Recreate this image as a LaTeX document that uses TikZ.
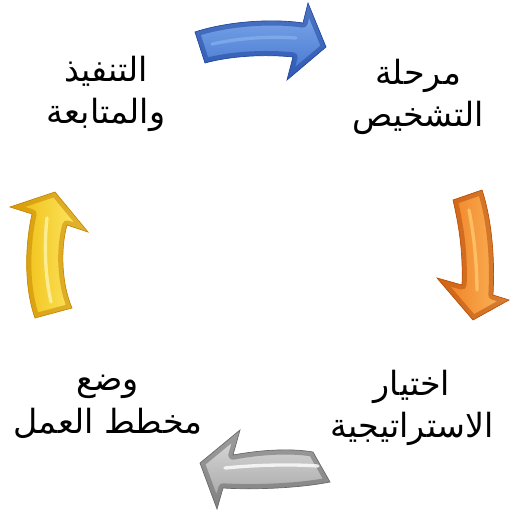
\documentclass[tikz,border=0pt]{standalone}
\usepackage{fontspec}
\newfontfamily\arabicfont[Script=Arabic]{DejaVu Sans}
\TeXXeTstate=1

\definecolor{bluebase}{RGB}{66,116,206}
\definecolor{bluedark}{RGB}{34,72,160}
\definecolor{bluelight}{RGB}{130,172,236}
\definecolor{orangebase}{RGB}{238,122,30}
\definecolor{orangedark}{RGB}{185,80,12}
\definecolor{orangelight}{RGB}{255,200,110}
\definecolor{graybase}{RGB}{160,160,160}
\definecolor{graydark}{RGB}{105,105,105}
\definecolor{graylight}{RGB}{222,222,222}
\definecolor{yellowbase}{RGB}{238,186,10}
\definecolor{yellowdark}{RGB}{200,135,5}
\definecolor{yellowlight}{RGB}{255,236,110}

% outlines of the four curved arrows
\def\bluearrow{(195,32) .. controls (225,22) and (270,18) .. (303,23) -- (308,3) -- (326,47) -- (287,80) -- (293,57) .. controls (265,54) and (230,56) .. (205,63) -- cycle}
\def\orangearrow{(453,200) .. controls (460,230) and (463,255) .. (462,285) -- (437,278) -- (473,320) -- (509,300) -- (493,295) .. controls (495,260) and (492,220) .. (482,190) -- cycle}
\def\grayarrow{(313,452) .. controls (290,448) and (260,450) .. (233,455) -- (240,430) -- (200,463) -- (217,509) -- (223,488) .. controls (255,490) and (300,488) .. (330,482) -- cycle}
\def\yellowarrow{(32,214) -- (10,207) -- (55,192) -- (88,232) -- (67,225) .. controls (60,250) and (62,285) .. (72,308) -- (35,318) .. controls (25,290) and (24,250) .. (32,214) -- cycle}

\tikzset{every picture/.style={line width=0.75pt}}
\tikzset{
  stage/.style={font=\arabicfont\fontsize{25}{32}\selectfont, align=center, inner sep=0pt},
  bevel/.style={line width=7, opacity=0.55, line join=round},
  gloss/.style={line width=2.5, line cap=round, opacity=0.8}
}

\begin{document}
\begin{tikzpicture}[x=0.75pt,y=0.75pt,yscale=-1,xscale=1]
  \useasboundingbox (0,0) rectangle (510,511);

  %Shape: Block Arc Arrow (top)
  \begin{scope}
    \clip \bluearrow;
    \shade[top color=bluelight, bottom color=bluebase] \bluearrow;
    \draw[bevel, bluedark] \bluearrow;
  \end{scope}
  \draw[gloss, bluelight] (212,44) .. controls (240,38) and (270,36) .. (296,38);
  \draw[bluedark, line width=0.5] \bluearrow;

  %Shape: Block Arc Arrow (right)
  \begin{scope}
    \clip \orangearrow;
    \shade[left color=orangebase, right color=orangelight!80!orangebase] \orangearrow;
    \draw[bevel, orangedark] \orangearrow;
  \end{scope}
  \draw[gloss, orangelight] (469,210) .. controls (474,235) and (477,265) .. (477,290);
  \draw[orangedark, line width=0.5] \orangearrow;

  %Shape: Block Arc Arrow (bottom)
  \begin{scope}
    \clip \grayarrow;
    \shade[top color=graylight, bottom color=graybase] \grayarrow;
    \draw[bevel, graydark] \grayarrow;
  \end{scope}
  \draw[gloss, white] (225,468) .. controls (255,465) and (290,464) .. (318,466);
  \draw[graydark, line width=0.5] \grayarrow;

  %Shape: Block Arc Arrow (left)
  \begin{scope}
    \clip \yellowarrow;
    \shade[left color=yellowbase, right color=yellowlight] \yellowarrow;
    \draw[bevel, yellowdark] \yellowarrow;
  \end{scope}
  \draw[gloss, yellowlight!60!white] (47,218) .. controls (44,245) and (45,275) .. (51,302);
  \draw[yellowdark, line width=0.5] \yellowarrow;

  % Text Node
  \node[stage] (diag) at (418,97) {\beginR مرحلة\endR\\\beginR التشخيص\endR};
  % Text Node
  \node[stage] (strat) at (412,408) {\beginR اختيار\endR\\\beginR الاستراتيجية\endR};
  % Text Node
  \node[stage] (plan) at (108,407) {\beginR وضع\endR\\\beginR مخطط العمل\endR};
  % Text Node
  \node[stage] (exec) at (106,94) {\beginR التنفيذ\endR\\\beginR والمتابعة\endR};

\end{tikzpicture}
\end{document}
